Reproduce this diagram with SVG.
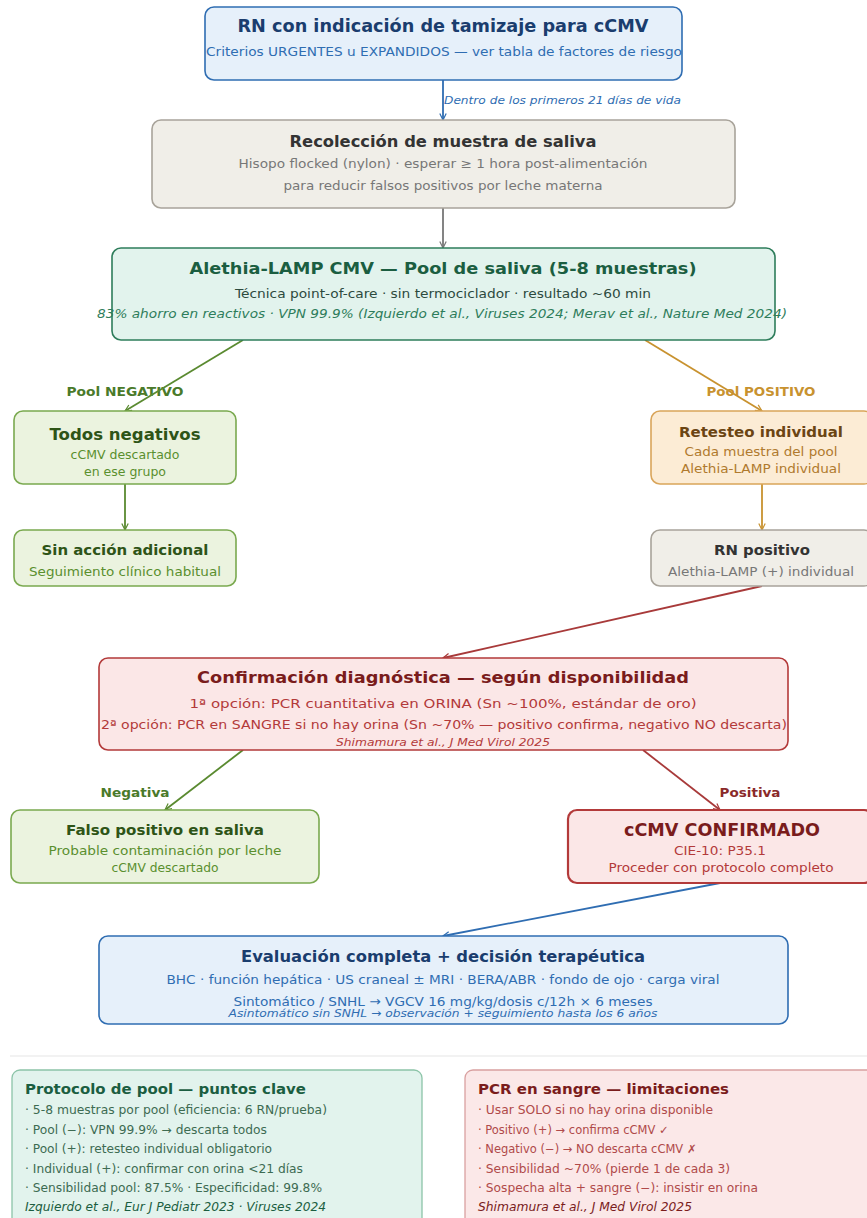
<svg xmlns="http://www.w3.org/2000/svg" width="867" height="1218" viewBox="0 0 867 1218">
<defs>
<style>
text{font-family:"DejaVu Sans","Liberation Sans",sans-serif;text-anchor:middle}
.t{font-weight:bold}
.i{font-style:italic}
.l{text-anchor:start}
.bx{stroke-width:1.6}
.blue{fill:#e6f0fa;stroke:#2f6db2}
.beige{fill:#f0eee8;stroke:#a8a39a}
.teal{fill:#e2f3ed;stroke:#2e7d5b}
.green{fill:#ebf3df;stroke:#7aa94f}
.orange{fill:#fcecd5;stroke:#d9a55a}
.red{fill:#fbe7e7;stroke:#b33a3a}
.c{fill:none;stroke-width:1.8}
</style>
<marker id="aB" viewBox="0 0 10 10" refX="9" refY="5" markerWidth="8" markerHeight="8" orient="auto" markerUnits="userSpaceOnUse"><path d="M1,1 L9,5 L1,9" fill="none" stroke="#2f6db2" stroke-width="1.5"/></marker>
<marker id="aG" viewBox="0 0 10 10" refX="9" refY="5" markerWidth="8" markerHeight="8" orient="auto" markerUnits="userSpaceOnUse"><path d="M1,1 L9,5 L1,9" fill="none" stroke="#777" stroke-width="1.5"/></marker>
<marker id="aN" viewBox="0 0 10 10" refX="9" refY="5" markerWidth="8" markerHeight="8" orient="auto" markerUnits="userSpaceOnUse"><path d="M1,1 L9,5 L1,9" fill="none" stroke="#5a8a30" stroke-width="1.5"/></marker>
<marker id="aO" viewBox="0 0 10 10" refX="9" refY="5" markerWidth="8" markerHeight="8" orient="auto" markerUnits="userSpaceOnUse"><path d="M1,1 L9,5 L1,9" fill="none" stroke="#c8922f" stroke-width="1.5"/></marker>
<marker id="aR" viewBox="0 0 10 10" refX="9" refY="5" markerWidth="8" markerHeight="8" orient="auto" markerUnits="userSpaceOnUse"><path d="M1,1 L9,5 L1,9" fill="none" stroke="#a83a3a" stroke-width="1.5"/></marker>
</defs>
<rect width="867" height="1218" fill="#ffffff"/>

<g id="connectors">
<text x="444" y="104" class="i l" font-size="11" fill="#2f6db2" textLength="237" lengthAdjust="spacingAndGlyphs">Dentro de los primeros 21 días de vida</text>
<text x="125" y="396" class="t" font-size="12" fill="#4a7a2a" textLength="117" lengthAdjust="spacingAndGlyphs">Pool NEGATIVO</text>
<text x="761" y="396" class="t" font-size="12" fill="#c8922f" textLength="109" lengthAdjust="spacingAndGlyphs">Pool POSITIVO</text>
<text x="135" y="797" class="t" font-size="12" fill="#4a7a2a" textLength="69" lengthAdjust="spacingAndGlyphs">Negativa</text>
<text x="750" y="797" class="t" font-size="12" fill="#8a2a2a" textLength="61" lengthAdjust="spacingAndGlyphs">Positiva</text>
<line class="c" x1="443" y1="80" x2="443" y2="120" stroke="#2f6db2" marker-end="url(#aB)"/>
<line class="c" x1="443" y1="208" x2="443" y2="248" stroke="#777" marker-end="url(#aG)"/>
<line class="c" x1="243" y1="340" x2="125" y2="411" stroke="#5a8a30" marker-end="url(#aN)"/>
<line class="c" x1="645" y1="340" x2="762" y2="411" stroke="#c8922f" marker-end="url(#aO)"/>
<line class="c" x1="125" y1="484" x2="125" y2="530" stroke="#5a8a30" marker-end="url(#aN)"/>
<line class="c" x1="762" y1="484" x2="762" y2="530" stroke="#c8922f" marker-end="url(#aO)"/>
<line class="c" x1="762" y1="586" x2="443" y2="658" stroke="#a83a3a" marker-end="url(#aR)"/>
<line class="c" x1="243" y1="750" x2="165" y2="810" stroke="#5a8a30" marker-end="url(#aN)"/>
<line class="c" x1="643" y1="750" x2="720" y2="810" stroke="#a83a3a" marker-end="url(#aR)"/>
<line class="c" x1="720" y1="883" x2="443" y2="936" stroke="#2f6db2" marker-end="url(#aB)"/>
</g>

<g id="n_rn">
<rect class="bx blue" x="205" y="7" width="477" height="73" rx="9"/>
<text x="443" y="32" class="t" font-size="17" fill="#1a3d6e" textLength="411" lengthAdjust="spacingAndGlyphs">RN con indicación de tamizaje para cCMV</text>
<text x="444" y="56" font-size="12.5" fill="#2f6db2" textLength="476" lengthAdjust="spacingAndGlyphs">Criterios URGENTES u EXPANDIDOS — ver tabla de factores de riesgo</text>
</g>

<g id="n_saliva">
<rect class="bx beige" x="152" y="120" width="583" height="88" rx="9"/>
<text x="443" y="147" class="t" font-size="15.5" fill="#333" textLength="307" lengthAdjust="spacingAndGlyphs">Recolección de muestra de saliva</text>
<text x="443" y="168" font-size="12.5" fill="#777" textLength="409" lengthAdjust="spacingAndGlyphs">Hisopo flocked (nylon) · esperar ≥ 1 hora post-alimentación</text>
<text x="443" y="190" font-size="12.5" fill="#777" textLength="319" lengthAdjust="spacingAndGlyphs">para reducir falsos positivos por leche materna</text>
</g>

<g id="n_lamp">
<rect class="bx teal" x="112" y="248" width="663" height="92" rx="9"/>
<text x="443" y="274" class="t" font-size="16.5" fill="#1b5e41" textLength="507" lengthAdjust="spacingAndGlyphs">Alethia-LAMP CMV — Pool de saliva (5-8 muestras)</text>
<text x="443" y="298" font-size="12.5" fill="#2d4a3e" textLength="416" lengthAdjust="spacingAndGlyphs">Técnica point-of-care · sin termociclador · resultado ~60 min</text>
<text x="442" y="318" class="i" font-size="12" fill="#2e7d5b" textLength="690" lengthAdjust="spacingAndGlyphs">83% ahorro en reactivos · VPN 99.9% (Izquierdo et al., Viruses 2024; Merav et al., Nature Med 2024)</text>
</g>

<g id="n_todos">
<rect class="bx green" x="14" y="411" width="222" height="73" rx="9"/>
<text x="125" y="440" class="t" font-size="15" fill="#2e5417" textLength="151" lengthAdjust="spacingAndGlyphs">Todos negativos</text>
<text x="125" y="459" font-size="12.5" fill="#5a8f2e">cCMV descartado</text>
<text x="125" y="476" font-size="12.5" fill="#5a8f2e">en ese grupo</text>
</g>

<g id="n_sin">
<rect class="bx green" x="14" y="530" width="222" height="56" rx="9"/>
<text x="125" y="555" class="t" font-size="14" fill="#2e5417" textLength="167" lengthAdjust="spacingAndGlyphs">Sin acción adicional</text>
<text x="125" y="576" font-size="12.5" fill="#5a8f2e" textLength="192" lengthAdjust="spacingAndGlyphs">Seguimiento clínico habitual</text>
</g>

<g id="n_retesteo">
<rect class="bx orange" x="651" y="411" width="222" height="73" rx="9"/>
<text x="761" y="437" class="t" font-size="14" fill="#6b4513" textLength="164" lengthAdjust="spacingAndGlyphs">Retesteo individual</text>
<text x="761" y="456" font-size="12.5" fill="#b07a2e" textLength="153" lengthAdjust="spacingAndGlyphs">Cada muestra del pool</text>
<text x="761" y="473" font-size="12.5" fill="#b07a2e" textLength="160" lengthAdjust="spacingAndGlyphs">Alethia-LAMP individual</text>
</g>

<g id="n_rnpos">
<rect class="bx beige" x="651" y="530" width="222" height="56" rx="9"/>
<text x="762" y="555" class="t" font-size="14" fill="#333" textLength="96" lengthAdjust="spacingAndGlyphs">RN positivo</text>
<text x="761" y="576" font-size="12.5" fill="#777" textLength="186" lengthAdjust="spacingAndGlyphs">Alethia-LAMP (+) individual</text>
</g>

<g id="n_confirm">
<rect class="bx red" x="99" y="658" width="689" height="92" rx="9"/>
<text x="443" y="683" class="t" font-size="16.5" fill="#7a1c1c" textLength="492" lengthAdjust="spacingAndGlyphs">Confirmación diagnóstica — según disponibilidad</text>
<text x="443" y="708" font-size="13" fill="#b33a3a" textLength="507" lengthAdjust="spacingAndGlyphs">1ª opción: PCR cuantitativa en ORINA (Sn ~100%, estándar de oro)</text>
<text x="444" y="729" font-size="12" fill="#b33a3a" textLength="686" lengthAdjust="spacingAndGlyphs">2ª opción: PCR en SANGRE si no hay orina (Sn ~70% — positivo confirma, negativo NO descarta)</text>
<text x="443" y="746" class="i" font-size="10.5" fill="#b33a3a" textLength="214" lengthAdjust="spacingAndGlyphs">Shimamura et al., J Med Virol 2025</text>
</g>

<g id="n_falso">
<rect class="bx green" x="11" y="810" width="308" height="73" rx="9"/>
<text x="165" y="835" class="t" font-size="14" fill="#2e5417" textLength="198" lengthAdjust="spacingAndGlyphs">Falso positivo en saliva</text>
<text x="165" y="855" font-size="12.5" fill="#5a8f2e" textLength="233" lengthAdjust="spacingAndGlyphs">Probable contaminación por leche</text>
<text x="165" y="872" font-size="12.5" fill="#5a8f2e" textLength="107" lengthAdjust="spacingAndGlyphs">cCMV descartado</text>
</g>

<g id="n_ccmv">
<rect class="red" stroke-width="2.2" x="568" y="810" width="305" height="73" rx="9"/>
<text x="722" y="836" class="t" font-size="17" fill="#7a1c1c" textLength="196" lengthAdjust="spacingAndGlyphs">cCMV CONFIRMADO</text>
<text x="720" y="855" font-size="12.5" fill="#b33a3a" textLength="92" lengthAdjust="spacingAndGlyphs">CIE-10: P35.1</text>
<text x="721" y="872" font-size="12.5" fill="#b33a3a" textLength="225" lengthAdjust="spacingAndGlyphs">Proceder con protocolo completo</text>
</g>

<g id="n_eval">
<rect class="bx blue" x="99" y="936" width="689" height="88" rx="9"/>
<text x="443" y="962" class="t" font-size="16" fill="#1a3d6e" textLength="404" lengthAdjust="spacingAndGlyphs">Evaluación completa + decisión terapéutica</text>
<text x="443" y="984" font-size="12.5" fill="#2f6db2" textLength="553" lengthAdjust="spacingAndGlyphs">BHC · función hepática · US craneal ± MRI · BERA/ABR · fondo de ojo · carga viral</text>
<text x="443" y="1006" font-size="13" fill="#2f6db2" textLength="419" lengthAdjust="spacingAndGlyphs">Sintomático / SNHL → VGCV 16 mg/kg/dosis c/12h × 6 meses</text>
<text x="443" y="1017" class="i" font-size="11" fill="#2f6db2" textLength="429" lengthAdjust="spacingAndGlyphs">Asintomático sin SNHL → observación + seguimiento hasta los 6 años</text>
</g>

<line x1="10" y1="1056" x2="867" y2="1056" stroke="#e6e6e6" stroke-width="1.2"/>

<g id="n_pool_notes">
<rect x="12" y="1070" width="410" height="160" rx="8" fill="#e2f3ed" stroke="#8cc4a8" stroke-width="1.3"/>
<text x="25" y="1094" class="t l" font-size="14" fill="#1b5e41" textLength="281" lengthAdjust="spacingAndGlyphs">Protocolo de pool — puntos clave</text>
<text x="25" y="1114" class="l" font-size="11.5" fill="#3d6b52" textLength="302" lengthAdjust="spacingAndGlyphs">· 5-8 muestras por pool (eficiencia: 6 RN/prueba)</text>
<text x="25" y="1134" class="l" font-size="11.5" fill="#3d6b52" textLength="242" lengthAdjust="spacingAndGlyphs">· Pool (−): VPN 99.9% → descarta todos</text>
<text x="25" y="1153" class="l" font-size="11.5" fill="#3d6b52" textLength="247" lengthAdjust="spacingAndGlyphs">· Pool (+): retesteo individual obligatorio</text>
<text x="25" y="1173" class="l" font-size="11.5" fill="#3d6b52" textLength="278" lengthAdjust="spacingAndGlyphs">· Individual (+): confirmar con orina &lt;21 días</text>
<text x="25" y="1192" class="l" font-size="11.5" fill="#3d6b52" textLength="297" lengthAdjust="spacingAndGlyphs">· Sensibilidad pool: 87.5% · Especificidad: 99.8%</text>
<text x="25" y="1211" class="i l" font-size="11.5" fill="#1b5e41" textLength="301" lengthAdjust="spacingAndGlyphs">Izquierdo et al., Eur J Pediatr 2023 · Viruses 2024</text>
</g>

<g id="n_pcr_notes">
<rect x="465" y="1070" width="410" height="160" rx="8" fill="#fbe8e8" stroke="#d9a0a0" stroke-width="1.3"/>
<text x="478" y="1094" class="t l" font-size="14" fill="#7a1c1c" textLength="251" lengthAdjust="spacingAndGlyphs">PCR en sangre — limitaciones</text>
<text x="478" y="1114" class="l" font-size="11.5" fill="#b04a4a" textLength="235" lengthAdjust="spacingAndGlyphs">· Usar SOLO si no hay orina disponible</text>
<text x="478" y="1134" class="l" font-size="11.5" fill="#b04a4a">· Positivo (+) → confirma cCMV ✓</text>
<text x="478" y="1153" class="l" font-size="11.5" fill="#b04a4a">· Negativo (−) → NO descarta cCMV ✗</text>
<text x="478" y="1173" class="l" font-size="11.5" fill="#b04a4a" textLength="252" lengthAdjust="spacingAndGlyphs">· Sensibilidad ~70% (pierde 1 de cada 3)</text>
<text x="478" y="1192" class="l" font-size="11.5" fill="#b04a4a" textLength="280" lengthAdjust="spacingAndGlyphs">· Sospecha alta + sangre (−): insistir en orina</text>
<text x="478" y="1211" class="i l" font-size="11.5" fill="#7a1c1c" textLength="214" lengthAdjust="spacingAndGlyphs">Shimamura et al., J Med Virol 2025</text>
</g>
</svg>
